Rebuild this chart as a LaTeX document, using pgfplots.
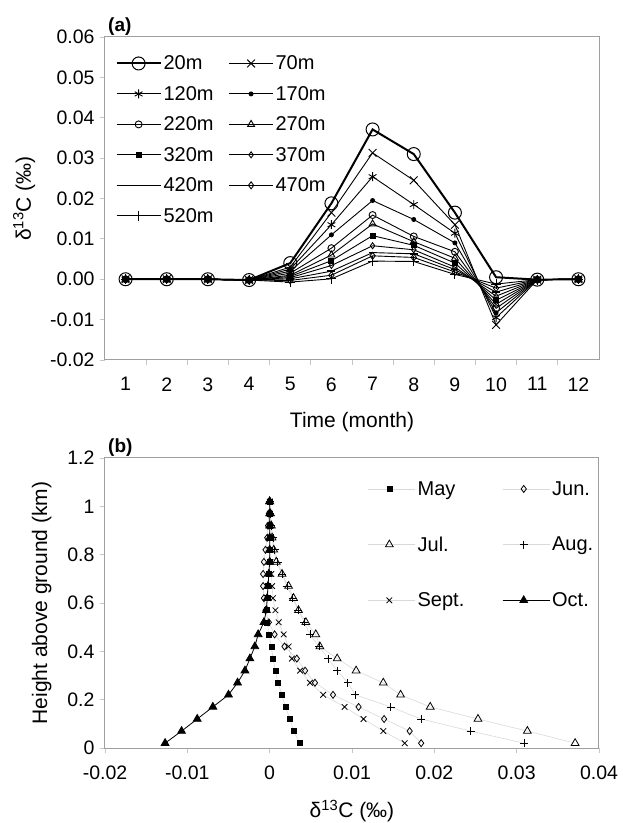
\documentclass[border=0pt]{standalone}
\usepackage{pgfplots}
\pgfplotsset{compat=1.18}
\usepackage{pgfplotstable}
\usepackage{fontspec}
\setmainfont{Liberation Sans}

% (a) monthly delta-13C at each height above ground
\pgfplotstableread{
month m20     m70     m120    m170    m220    m270    m320    m370    m420    m470    m520
1     0       0       0       0       0       0       0       0       0       0       0
2     0       0       0       0       0       0       0       0       0       0       0
3     0       0       0       0       0       0       0       0       0       0       0
4     -0.0002 -0.0002 -0.0002 -0.0002 -0.0002 -0.0002 -0.0002 -0.0002 -0.0002 -0.0002 -0.0002
5     0.0040  0.0030  0.0025  0.0020  0.0015  0.0010  0.0007  0.0004  0.0001  -0.0003 -0.0007
6     0.0188  0.0165  0.0135  0.0110  0.0077  0.0060  0.0046  0.0034  0.0020  0.0010  0.0001
7     0.0371  0.0313  0.0254  0.0195  0.0159  0.0137  0.0108  0.0083  0.0066  0.0058  0.0045
8     0.0310  0.0245  0.0185  0.0148  0.0106  0.0093  0.0084  0.0073  0.0063  0.0054  0.0044
9     0.0165  0.0135  0.0114  0.0090  0.0068  0.0052  0.0040  0.0030  0.0024  0.0018  0.0012
10    0.0005  -0.0113 -0.0095 -0.0083 -0.0072 -0.0062 -0.0052 -0.0042 -0.0032 -0.0022 -0.0012
11    -0.0001 -0.0001 -0.0001 -0.0001 -0.0001 -0.0001 -0.0001 -0.0001 -0.0001 -0.0001 -0.0001
12    0       0       0       0       0       0       0       0       0       0       0
}\heighttab

% (b) vertical profiles, height in km
\pgfplotstableread{
h     May     Jun     Jul     Aug     Sep     Oct
0.02  0.0037  0.0184  0.0371  0.0309  0.0164  -0.0127
0.07  0.0029  0.0170  0.0313  0.0244  0.0138  -0.0107
0.12  0.0025  0.0139  0.0253  0.0184  0.0114  -0.0088
0.17  0.0019  0.0108  0.0195  0.0147  0.0091  -0.0069
0.22  0.0015  0.0077  0.0159  0.0104  0.0065  -0.0050
0.27  0.0010  0.0055  0.0138  0.0095  0.0049  -0.0039
0.32  0.0007  0.0043  0.0105  0.0082  0.0037  -0.0030
0.37  0.0004  0.0033  0.0082  0.0071  0.0027  -0.0024
0.42  0.0002  0.0018  0.0061  0.0060  0.0023  -0.0018
0.47  -0.0001 0.0006  0.0056  0.0049  0.0017  -0.0014
0.52  -0.0003 -0.0001 0.0044  0.0042  0.0011  -0.0007
0.57  -0.0003 -0.0005 0.0035  0.0035  0.0007  -0.0004
0.62  -0.0002 -0.0007 0.0029  0.0028  0.0004  -0.0003
0.67  -0.0002 -0.0008 0.0023  0.0021  0.0003  -0.0002
0.72  -0.0001 -0.0008 0.0015  0.0015  0.0002  -0.0001
0.77  0.0000  -0.0007 0.0008  0.0010  0.0001  0.0000
0.82  0.0000  -0.0005 0.0005  0.0006  0.0000  0.0000
0.87  0.0000  -0.0003 0.0003  0.0004  0.0000  0.0000
0.92  0.0000  -0.0002 0.0002  0.0002  0.0000  0.0000
0.97  0.0000  -0.0001 0.0001  0.0001  0.0000  0.0000
1.02  0.0000  0.0000  0.0000  0.0000  0.0000  0.0000
}\profiletab

\pgfplotsset{
  panel/.style={
    scale only axis,
    anchor=south west,
    axis line style={draw=gray!75, line width=1pt},
    tick style={draw=gray!45, line width=0.8pt},
    tick align=outside,
    tick pos=left,
    major tick length=5pt,
    minor tick length=5pt,
    every tick label/.append style={font=\fontsize{19.5}{22}\selectfont},
    xticklabel shift=9pt,
    yticklabel shift=2pt,
    xlabel shift=14pt,
    label style={font=\fontsize{21}{24}\selectfont},
    /pgf/number format/assume math mode=true,
    /pgf/number format/1000 sep={},
    scaled ticks=false,
    legend style={draw=none, fill=none, font=\fontsize{20}{23}\selectfont},
    legend cell align=left,
  },
}
\tikzset{
  panel tag/.style={anchor=south west, inner sep=0pt, xshift=3pt, yshift=1pt,
    font=\bfseries\fontsize{19}{21}\selectfont},
}

\begin{document}
\begin{tikzpicture}[x=1pt,y=1pt]
\useasboundingbox (0,0) rectangle (623,823);

\begin{axis}[panel,
  at={(105pt,463pt)}, width=494pt, height=323pt,
  xmin=0.5, xmax=12.5, ymin=-0.02, ymax=0.06,
  xtick={1,...,12}, major x tick style={draw=none},
  minor xtick={1.5,2.5,...,11.5},
  ytick={-0.02,-0.01,0,0.01,0.02,0.03,0.04,0.05,0.06},
  yticklabel style={/pgf/number format/.cd, fixed, fixed zerofill, precision=2},
  xlabel={Time (month)},
  ylabel={δ\textsuperscript{13}C (‰)},
  ylabel shift=8pt,
  clip=false,
  legend columns=2,
  legend style={at={(0.015,0.955)}, anchor=north west, row sep=11pt,
    /tikz/every even column/.append style={column sep=13pt}},
  legend image code/.code={\draw[mark repeat=2,mark phase=2,#1] plot coordinates {(0pt,0pt) (22pt,0pt) (44pt,0pt)};},
]
\addplot[black, line width=2pt, mark=o, mark size=6.5pt, mark options={line width=1pt}] table[x=month,y=m20]{\heighttab};
\addlegendentry{20m}
\addplot[black, line width=0.9pt, mark=x, mark size=5.5pt] table[x=month,y=m70]{\heighttab};
\addlegendentry{70m}
\addplot[black, line width=0.9pt, mark=asterisk, mark size=4.5pt] table[x=month,y=m120]{\heighttab};
\addlegendentry{120m}
\addplot[black, line width=0.9pt, mark=*, mark size=2pt] table[x=month,y=m170]{\heighttab};
\addlegendentry{170m}
\addplot[black, line width=0.9pt, mark=o, mark size=3.5pt] table[x=month,y=m220]{\heighttab};
\addlegendentry{220m}
\addplot[black, line width=0.9pt, mark=triangle, mark size=4pt] table[x=month,y=m270]{\heighttab};
\addlegendentry{270m}
\addplot[black, line width=0.9pt, mark=square*, mark size=2.5pt] table[x=month,y=m320]{\heighttab};
\addlegendentry{320m}
\addplot[black, line width=0.9pt, mark=diamond, mark size=3pt] table[x=month,y=m370]{\heighttab};
\addlegendentry{370m}
\addplot[black, line width=0.9pt, mark=-, mark size=4pt, mark options={line width=1.5pt}] table[x=month,y=m420]{\heighttab};
\addlegendentry{420m}
\addplot[black, line width=0.9pt, mark=diamond, mark size=3.5pt] table[x=month,y=m470]{\heighttab};
\addlegendentry{470m}
\addplot[black, line width=0.9pt, mark=+, mark size=5pt] table[x=month,y=m520]{\heighttab};
\addlegendentry{520m}
\node[panel tag] at (rel axis cs:0,1) {(a)};
\end{axis}

\begin{axis}[panel,
  at={(105pt,75pt)}, width=494pt, height=290pt,
  xmin=-0.02, xmax=0.04, ymin=0, ymax=1.2,
  xtick={-0.02,-0.01,0,0.01,0.02,0.03,0.04},
  ytick={0,0.2,0.4,0.6,0.8,1,1.2},
  xticklabel style={/pgf/number format/.cd, fixed, precision=2},
  yticklabel style={/pgf/number format/.cd, fixed, precision=1},
  xlabel={δ\textsuperscript{13}C (‰)},
  ylabel={Height above ground (km)},
  ylabel shift=9pt,
  clip=false,
  legend columns=2,
  legend style={at={(0.526,0.934)}, anchor=north west, row sep=36pt,
    /tikz/every even column/.append style={column sep=36pt}},
  legend image code/.code={%
    \path (0pt,0pt) -- (47pt,0pt);
    \draw[mark repeat=2,mark phase=2,#1] plot coordinates {(0pt,0pt) (21pt,0pt) (42pt,0pt)};},
]
\addplot[gray!30, line width=0.6pt, mark=square*, mark size=2.5pt, mark options={black}] table[x=May,y=h]{\profiletab};
\addlegendentry{May}
\addplot[gray!30, line width=0.6pt, mark=diamond, mark size=3.5pt, mark options={black, line width=0.8pt}] table[x=Jun,y=h]{\profiletab};
\addlegendentry{Jun.}
\addplot[gray!30, line width=0.6pt, mark=triangle, mark size=4.5pt, mark options={black, line width=0.8pt}] table[x=Jul,y=h]{\profiletab};
\addlegendentry{Jul.}
\addplot[gray!30, line width=0.6pt, mark=+, mark size=4pt, mark options={black, line width=0.8pt}] table[x=Aug,y=h]{\profiletab};
\addlegendentry{Aug.}
\addplot[gray!30, line width=0.6pt, mark=x, mark size=4pt, mark options={black, line width=0.8pt}] table[x=Sep,y=h]{\profiletab};
\addlegendentry{Sept.}
\addplot[black, line width=0.8pt, mark=triangle*, mark size=4.5pt] table[x=Oct,y=h]{\profiletab};
\addlegendentry{Oct.}
\node[panel tag] at (rel axis cs:0,1) {(b)};
\end{axis}
\end{tikzpicture}
\end{document}
